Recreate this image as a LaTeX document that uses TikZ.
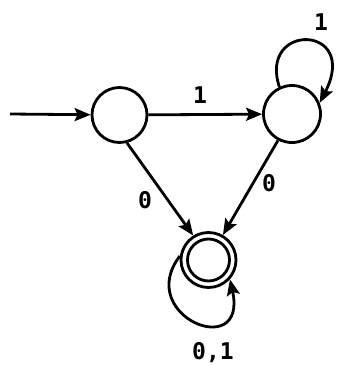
\documentclass[tikz,border=0pt]{standalone}
\usepackage{fontspec}
\setmainfont{DejaVu Sans Mono}
\usetikzlibrary{arrows.meta}
\begin{document}
\begin{tikzpicture}[x=1pt,y=-1pt,
  state/.style={circle,draw,line width=2.8pt,minimum size=55pt,inner sep=0pt},
  accin/.style={circle,draw,line width=2.8pt,minimum size=42pt,inner sep=0pt},
  edge/.style={line width=2.8pt,-{Stealth[length=16pt,width=13pt,inset=3pt]}},
  lbl/.style={font=\fontsize{23}{25}\selectfont\bfseries,inner sep=0pt}]
\useasboundingbox (0,0) rectangle (337,365);
\node[state] (q0) at (119.5,115) {};
\node[state,minimum size=57pt] (q1) at (292,114) {};
\node[state,minimum size=55pt] (q2) at (208.5,260) {};
\node[accin] (q2i) at (208.5,260) {};
\coordinate (s) at (10,114);
\draw[edge] (s) -- (q0);
\draw[edge] (q0) -- (q1);
\draw[edge] (q0.-75) -- (q2.122);
\draw[edge] (q1.-118) -- (q2.60);
\draw[edge] (q1.115) .. controls (258,22) and (360,24) .. (q1.22);
\draw[edge] (q2.172) .. controls (134,316) and (248,362) .. (q2.-42);
\node[lbl] (l1) at (200,95) {1};
\node[lbl] (l2) at (145,200) {0};
\node[lbl] (l3) at (269,183) {0};
\node[lbl] (l4) at (321,22) {1};
\node[lbl] (l5) at (213,353) {0,1};
\end{tikzpicture}
\end{document}
